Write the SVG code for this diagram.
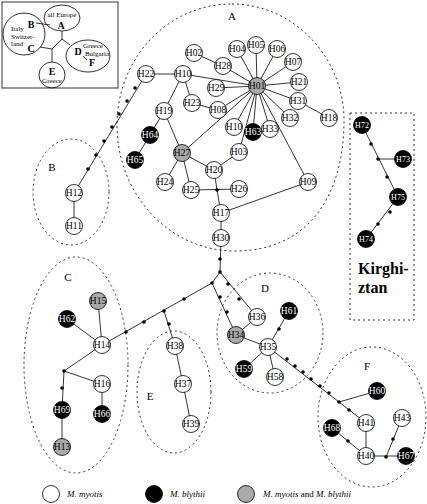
<svg xmlns="http://www.w3.org/2000/svg" width="427" height="504" viewBox="0 0 427 504">
<style>
.e{fill:none;stroke:#000;stroke-width:0.8}
.reg{fill:none;stroke:#333;stroke-width:1;stroke-dasharray:2 3}
.nw{fill:#fff;stroke:#000;stroke-width:0.8}
.nb{fill:#000;stroke:#000;stroke-width:0.8}
.ng{fill:#a9a9a9;stroke:#000;stroke-width:0.8}
.d{fill:#000}
text{font-family:"Liberation Serif","Times New Roman",serif}
.t{font-size:9.5px;text-anchor:middle;fill:#000}
.tw{font-size:9.5px;text-anchor:middle;fill:#fff}
.tk{font-size:8px;text-anchor:middle;fill:#fff}
.lab{font-size:11px;text-anchor:middle}
.sm{font-size:7px}
.bl{font-size:10px;font-weight:bold;text-anchor:middle}
.lg{font-size:9px;font-style:italic}
</style>
<rect width="427" height="504" fill="#fff"/>

<g id="inset">
<rect x="2" y="2" width="116" height="86" fill="none" stroke="#555" stroke-width="1.2"/>
<ellipse cx="62" cy="18" rx="18" ry="13" class="e"/>
<circle cx="24" cy="34" r="21" class="e"/>
<ellipse cx="88" cy="56" rx="22" ry="16" class="e"/>
<circle cx="52" cy="75" r="13" class="e"/>
<path class="e" d="M62,31 L62,39 L70,45 M62,39 L52,49 L52,62 M52,49 L40,47 M36,23 L50,25 M83,56 L87,60"/>
<text x="62" y="17" class="sm" text-anchor="middle">all Europe</text>
<text x="61" y="28.5" class="bl">A</text>
<text x="31" y="27.5" class="bl">B</text>
<text x="11" y="30.5" class="sm">Italy</text>
<text x="11" y="38.5" class="sm">Switzer-</text>
<text x="11" y="46" class="sm">land</text>
<text x="31" y="52" class="bl">C</text>
<text x="78" y="55" class="bl">D</text>
<text x="93" y="47.5" class="sm" text-anchor="middle">Greece</text>
<text x="97" y="56" class="sm" text-anchor="middle">Bulgaria</text>
<text x="92" y="66" class="bl">F</text>
<text x="52" y="75" class="bl">E</text>
<text x="52" y="82.5" class="sm" text-anchor="middle">Greece</text>
</g>

<g id="regions">
<path class="reg" d="M232,4 C294,4 344,58 344,120 C344,200 305,251 235,251 C170,251 117,195 117,125 C117,58 168,4 232,4 Z"/>
<ellipse class="reg" cx="71" cy="192" rx="38" ry="53"/>
<ellipse class="reg" cx="76" cy="365" rx="52" ry="108"/>
<ellipse class="reg" cx="270" cy="333" rx="53" ry="60"/>
<ellipse class="reg" cx="174" cy="392" rx="37" ry="61"/>
<ellipse class="reg" cx="372" cy="417" rx="54" ry="70"/>
<rect class="reg" x="350" y="113" width="64" height="207"/>
<text x="232" y="20" class="lab">A</text>
<text x="52" y="171" class="lab">B</text>
<text x="68" y="281" class="lab">C</text>
<text x="265" y="292" class="lab">D</text>
<text x="150" y="400" class="lab">E</text>
<text x="367" y="370" class="lab">F</text>
<text x="358" y="274" font-size="16" font-weight="bold">Kirghi-</text>
<text x="358" y="293" font-size="16" font-weight="bold">ztan</text>
</g>

<g id="connectors">
<path class="e" d="M146,74 L183,74 L257,86 M183,74 L164,111 M183,74 L192,103 L218,110 L257,86 M216,88 L257,86 M194,53 L223,66 L257,86 M237,49 L257,86 M256,45 L257,86 M277,49 L257,86 M293,62 L257,86 M299,82 L257,86 M298,101 L257,86 M298,101 L329,118 M290,118 L257,86 M270,129 L257,86 M253,132 L257,86 M234,127 L257,86 M239,152 L257,86 M308,182 L257,86 M182,153 L257,86 M164,111 L182,153 M164,111 L150,135 L135,160 M182,153 L165,182 M182,153 L191,190 M182,153 L214,170 L239,152 M214,170 L217,190 L221,213 M191,190 L239,189 M221,213 L308,182 M221,213 L221,238 L220,272"/>
<path class="e" d="M146,74 L74,193 L74,226"/>
<path class="e" d="M220,272 L212,283 L102,345 M98,301 L102,345 M67,319 L102,345 M102,345 L64,371 L102,384 L102,414 M64,371 L62,410 L62,447"/>
<path class="e" d="M164,311 L175,346 L183,384 L191,424"/>
<path class="e" d="M212,283 L236,335 M220,272 L257,317 M236,335 L257,317 M236,335 L268,347 L289,311 M268,347 L244,369 M268,347 L275,377 M268,347 L339,402 L377,391 M339,402 L366,423 L366,456 M332,428 L366,456 L406,456 M386,457 L402,418"/>
<path class="e" d="M362,125 L398,197 L366,239 M378,159 L403,159"/>
</g>

<g id="dots">
<circle class="d" cx="135" cy="88" r="1.8"/>
<circle class="d" cx="127" cy="101" r="1.8"/>
<circle class="d" cx="119" cy="114" r="1.8"/>
<circle class="d" cx="112" cy="127" r="1.8"/>
<circle class="d" cx="104" cy="141" r="1.8"/>
<circle class="d" cx="96" cy="155" r="1.8"/>
<circle class="d" cx="88" cy="169" r="1.8"/>
<circle class="d" cx="217" cy="190" r="1.8"/>
<circle class="d" cx="220" cy="259" r="1.8"/>
<circle class="d" cx="220" cy="272" r="1.8"/>
<circle class="d" cx="212" cy="283" r="1.8"/>
<circle class="d" cx="184" cy="299" r="1.8"/>
<circle class="d" cx="164" cy="311" r="1.8"/>
<circle class="d" cx="144" cy="322" r="1.8"/>
<circle class="d" cx="126" cy="332" r="1.8"/>
<circle class="d" cx="64" cy="371" r="1.8"/>
<circle class="d" cx="62" cy="388" r="1.8"/>
<circle class="d" cx="169" cy="324" r="1.8"/>
<circle class="d" cx="220" cy="297" r="1.8"/>
<circle class="d" cx="227" cy="312" r="1.8"/>
<circle class="d" cx="228" cy="284" r="1.8"/>
<circle class="d" cx="239" cy="299" r="1.8"/>
<circle class="d" cx="279" cy="329" r="1.8"/>
<circle class="d" cx="287" cy="359" r="1.8"/>
<circle class="d" cx="295" cy="366" r="1.8"/>
<circle class="d" cx="303" cy="372" r="1.8"/>
<circle class="d" cx="311" cy="379" r="1.8"/>
<circle class="d" cx="320" cy="386" r="1.8"/>
<circle class="d" cx="329" cy="393" r="1.8"/>
<circle class="d" cx="339" cy="402" r="1.8"/>
<circle class="d" cx="349" cy="410" r="1.8"/>
<circle class="d" cx="348" cy="441" r="1.8"/>
<circle class="d" cx="386" cy="457" r="1.8"/>
<circle class="d" cx="393" cy="439" r="1.8"/>
<circle class="d" cx="371" cy="144" r="1.8"/>
<circle class="d" cx="378" cy="159" r="1.8"/>
<circle class="d" cx="387" cy="177" r="1.8"/>
<circle class="d" cx="390" cy="212" r="1.8"/>
<circle class="d" cx="378" cy="224" r="1.8"/>
</g>

<g id="n-H01"><circle class="ng" cx="257" cy="86" r="8.5"/><text class="t" x="257" y="89.4">H01</text></g>
<g id="n-H02"><circle class="nw" cx="194" cy="53" r="8.5"/><text class="t" x="194" y="56.4">H02</text></g>
<g id="n-H28"><circle class="nw" cx="223" cy="66" r="8.5"/><text class="t" x="223" y="69.4">H28</text></g>
<g id="n-H04"><circle class="nw" cx="237" cy="49" r="8.5"/><text class="t" x="237" y="52.4">H04</text></g>
<g id="n-H05"><circle class="nw" cx="256" cy="45" r="8.5"/><text class="t" x="256" y="48.4">H05</text></g>
<g id="n-H06"><circle class="nw" cx="277" cy="49" r="8.5"/><text class="t" x="277" y="52.4">H06</text></g>
<g id="n-H07"><circle class="nw" cx="293" cy="62" r="8.5"/><text class="t" x="293" y="65.4">H07</text></g>
<g id="n-H21"><circle class="nw" cx="299" cy="82" r="8.5"/><text class="t" x="299" y="85.4">H21</text></g>
<g id="n-H31"><circle class="nw" cx="298" cy="101" r="8.5"/><text class="t" x="298" y="104.4">H31</text></g>
<g id="n-H18"><circle class="nw" cx="329" cy="118" r="8.5"/><text class="t" x="329" y="121.4">H18</text></g>
<g id="n-H32"><circle class="nw" cx="290" cy="118" r="8.5"/><text class="t" x="290" y="121.4">H32</text></g>
<g id="n-H33"><circle class="nw" cx="270" cy="129" r="8.5"/><text class="t" x="270" y="132.4">H33</text></g>
<g id="n-H10b"><circle class="nw" cx="234" cy="127" r="8.5"/><text class="t" x="234" y="130.4">H10</text></g>
<g id="n-H63"><circle class="nb" cx="253" cy="132" r="8.5"/><text class="tw" x="253" y="135.4">H63</text></g>
<g id="n-H10"><circle class="nw" cx="183" cy="74" r="8.5"/><text class="t" x="183" y="77.4">H10</text></g>
<g id="n-H29"><circle class="nw" cx="216" cy="88" r="8.5"/><text class="t" x="216" y="91.4">H29</text></g>
<g id="n-H23"><circle class="nw" cx="192" cy="103" r="8.5"/><text class="t" x="192" y="106.4">H23</text></g>
<g id="n-H08"><circle class="nw" cx="218" cy="110" r="8.5"/><text class="t" x="218" y="113.4">H08</text></g>
<g id="n-H19"><circle class="nw" cx="164" cy="111" r="8.5"/><text class="t" x="164" y="114.4">H19</text></g>
<g id="n-H22"><circle class="nw" cx="146" cy="74" r="8.5"/><text class="t" x="146" y="77.4">H22</text></g>
<g id="n-H64"><circle class="nb" cx="150" cy="135" r="8.5"/><text class="tw" x="150" y="138.4">H64</text></g>
<g id="n-H65"><circle class="nb" cx="135" cy="160" r="8.5"/><text class="tw" x="135" y="163.4">H65</text></g>
<g id="n-H27"><circle class="ng" cx="182" cy="153" r="8.5"/><text class="t" x="182" y="156.4">H27</text></g>
<g id="n-H03"><circle class="nw" cx="239" cy="152" r="8.5"/><text class="t" x="239" y="155.4">H03</text></g>
<g id="n-H20"><circle class="nw" cx="214" cy="170" r="8.5"/><text class="t" x="214" y="173.4">H20</text></g>
<g id="n-H24"><circle class="nw" cx="165" cy="182" r="8.5"/><text class="t" x="165" y="185.4">H24</text></g>
<g id="n-H25"><circle class="nw" cx="191" cy="190" r="8.5"/><text class="t" x="191" y="193.4">H25</text></g>
<g id="n-H26"><circle class="nw" cx="239" cy="189" r="8.5"/><text class="t" x="239" y="192.4">H26</text></g>
<g id="n-H09"><circle class="nw" cx="308" cy="182" r="8.5"/><text class="t" x="308" y="185.4">H09</text></g>
<g id="n-H17"><circle class="nw" cx="221" cy="213" r="8.5"/><text class="t" x="221" y="216.4">H17</text></g>
<g id="n-H30"><circle class="nw" cx="221" cy="238" r="8.5"/><text class="t" x="221" y="241.4">H30</text></g>

<g id="n-H12"><circle class="nw" cx="74" cy="193" r="8.5"/><text class="t" x="74" y="196.4">H12</text></g>
<g id="n-H11"><circle class="nw" cx="74" cy="226" r="8.5"/><text class="t" x="74" y="229.4">H11</text></g>

<g id="n-H15"><circle class="ng" cx="98" cy="301" r="8.5"/><text class="t" x="98" y="304.4">H15</text></g>
<g id="n-H62"><circle class="nb" cx="67" cy="319" r="8.5"/><text class="tw" x="67" y="322.4">H62</text></g>
<g id="n-H14"><circle class="nw" cx="102" cy="345" r="8.5"/><text class="t" x="102" y="348.4">H14</text></g>
<g id="n-H16"><circle class="nw" cx="102" cy="384" r="8.5"/><text class="t" x="102" y="387.4">H16</text></g>
<g id="n-H66"><circle class="nb" cx="102" cy="414" r="8.5"/><text class="tw" x="102" y="417.4">H66</text></g>
<g id="n-H69"><circle class="nb" cx="62" cy="410" r="8.5"/><text class="tw" x="62" y="413.4">H69</text></g>
<g id="n-H13"><circle class="ng" cx="62" cy="447" r="8.5"/><text class="t" x="62" y="450.4">H13</text></g>

<g id="n-H38"><circle class="nw" cx="175" cy="346" r="8.5"/><text class="t" x="175" y="349.4">H38</text></g>
<g id="n-H37"><circle class="nw" cx="183" cy="384" r="8.5"/><text class="t" x="183" y="387.4">H37</text></g>
<g id="n-H39"><circle class="nw" cx="191" cy="424" r="8.5"/><text class="t" x="191" y="427.4">H39</text></g>

<g id="n-H34"><circle class="ng" cx="236" cy="335" r="8.5"/><text class="t" x="236" y="338.4">H34</text></g>
<g id="n-H36"><circle class="nw" cx="257" cy="317" r="8.5"/><text class="t" x="257" y="320.4">H36</text></g>
<g id="n-H61"><circle class="nb" cx="289" cy="311" r="8.5"/><text class="tw" x="289" y="314.4">H61</text></g>
<g id="n-H35"><circle class="nw" cx="268" cy="347" r="8.5"/><text class="t" x="268" y="350.4">H35</text></g>
<g id="n-H59"><circle class="nb" cx="244" cy="369" r="8.5"/><text class="tw" x="244" y="372.4">H59</text></g>
<g id="n-H58"><circle class="nw" cx="275" cy="377" r="8.5"/><text class="t" x="275" y="380.4">H58</text></g>

<g id="n-H60"><circle class="nb" cx="377" cy="391" r="8.5"/><text class="tw" x="377" y="394.4">H60</text></g>
<g id="n-H41"><circle class="nw" cx="366" cy="423" r="8.5"/><text class="t" x="366" y="426.4">H41</text></g>
<g id="n-H68"><circle class="nb" cx="332" cy="428" r="8.5"/><text class="tw" x="332" y="431.4">H68</text></g>
<g id="n-H40"><circle class="nw" cx="366" cy="456" r="8.5"/><text class="t" x="366" y="459.4">H40</text></g>
<g id="n-H43"><circle class="nw" cx="402" cy="418" r="8.5"/><text class="t" x="402" y="421.4">H43</text></g>
<g id="n-H67"><circle class="nb" cx="406" cy="456" r="8.5"/><text class="tw" x="406" y="459.4">H67</text></g>

<g id="n-H72"><circle class="nb" cx="362" cy="125" r="8.5"/><text class="tk" x="362" y="127.9">H72</text></g>
<g id="n-H73"><circle class="nb" cx="403" cy="159" r="8.5"/><text class="tk" x="403" y="161.9">H73</text></g>
<g id="n-H75"><circle class="nb" cx="398" cy="197" r="8.5"/><text class="tk" x="398" y="199.9">H75</text></g>
<g id="n-H74"><circle class="nb" cx="366" cy="239" r="8.5"/><text class="tk" x="366" y="241.9">H74</text></g>

<g id="legend">
<circle class="nw" cx="51" cy="494" r="8.5"/>
<text class="lg" x="67" y="497">M. myotis</text>
<circle class="nb" cx="154" cy="494" r="8.5"/>
<text class="lg" x="170" y="497">M. blythii</text>
<circle class="ng" cx="246" cy="494" r="8.5"/>
<text class="lg" x="263" y="497">M. myotis <tspan font-style="normal">and</tspan> M. blythii</text>
</g>
</svg>
